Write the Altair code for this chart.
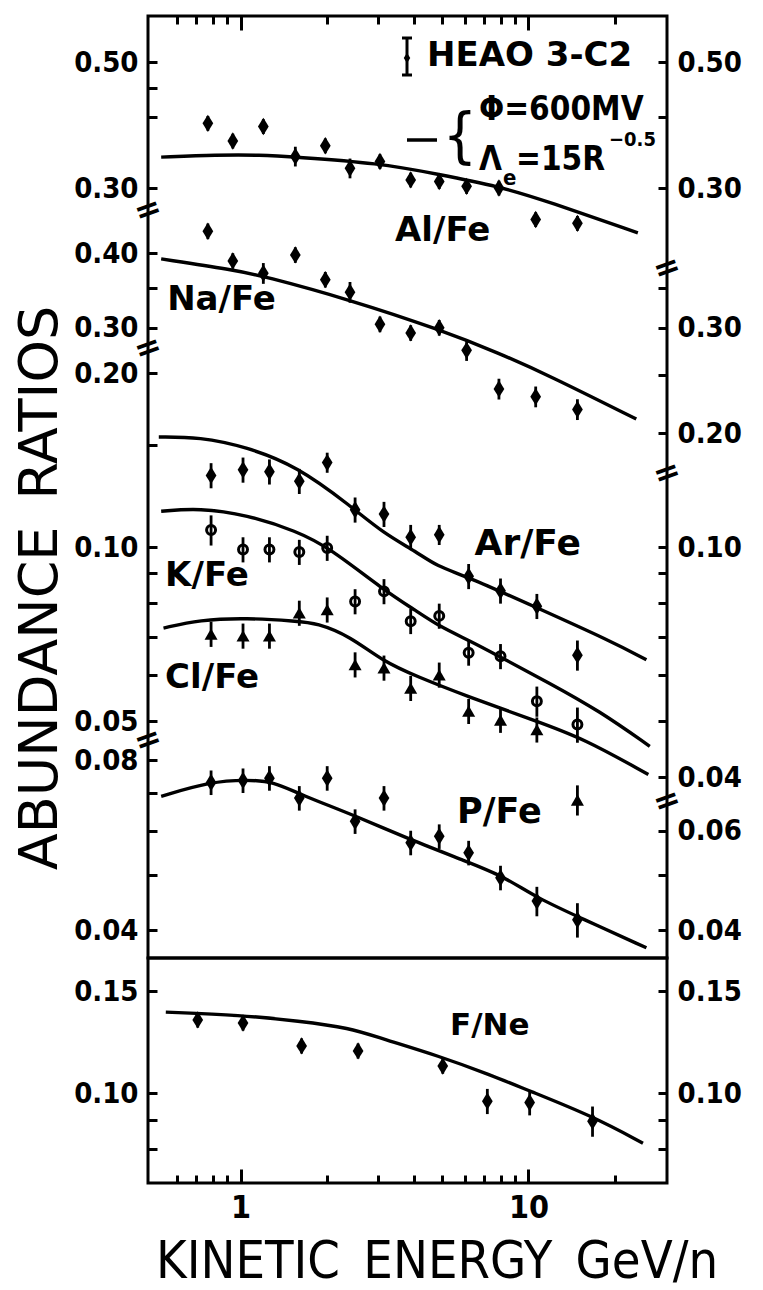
import json
import math
import altair as alt
import pandas as pd

# ---------------- data ----------------
E_A = [0.77, 0.94, 1.2, 1.55, 1.97, 2.4, 3.05, 3.9, 4.9, 6.1, 7.9, 10.6, 14.8]
E_B = [0.79, 1.02, 1.26, 1.6, 2.0, 2.5, 3.15, 3.9, 4.9, 6.2, 8.0, 10.7, 14.8]

AL_FE = [0.390, 0.363, 0.385, 0.341, 0.356, 0.325, 0.334, 0.310, 0.308, 0.302, 0.300, 0.264, 0.260]
AL_ERR = [3, 3, 3, 4, 3, 4, 3, 3, 3, 3, 3, 3, 3]
NA_FE = [0.435, 0.388, 0.370, 0.397, 0.361, 0.344, 0.304, 0.294, 0.300, 0.275, 0.237, 0.230, 0.219]
NA_ERR = [3, 3, 4, 3, 3, 4, 3, 3, 3, 4, 4, 4, 4]
AR_FE = [0.133, 0.136, 0.135, 0.130, 0.140, 0.116, 0.114, 0.104, 0.105, 0.089, 0.084, 0.079, 0.065]
AR_ERR = [5, 5, 5, 5, 4, 5, 5, 5, 4, 5, 5, 5, 6]
K_FE = [0.107, 0.099, 0.099, 0.098, 0.0996, 0.0805, 0.0838, 0.0744, 0.0760, 0.0656, 0.0647, 0.0541, 0.0493]
K_ERR = [6, 5, 5, 5, 5, 5, 5, 5, 5, 5, 5, 6, 7]
CL_FE = [0.0707, 0.0702, 0.0702, 0.0769, 0.0779, 0.0626, 0.0618, 0.0570, 0.0601, 0.0520, 0.0502, 0.0483, 0.0365]
CL_ERR = [5, 5, 5, 5, 5, 5, 5, 5, 5, 5, 5, 5, 6]
P_FE = [0.0730, 0.0736, 0.0743, 0.0685, 0.0743, 0.0623, 0.0685, 0.0571, 0.0586, 0.0548, 0.0495, 0.0450, 0.0417]
P_ERR = [5, 5, 5, 5, 5, 5, 5, 5, 5, 5, 5, 6, 7]
E_F = [0.71, 1.02, 1.63, 2.56, 5.04, 7.2, 10.1, 16.7]
F_NE = [0.1337, 0.1321, 0.1206, 0.1182, 0.1113, 0.0968, 0.0963, 0.0894]
F_ERR = [3, 3, 3, 3, 3, 5, 5, 6]

# model curves (phi = 600 MV, Lambda_e = 15 R^-0.5)
CAL_E = [0.53, 0.83, 1.17, 1.55, 3.0, 4.9, 7.9, 11.7, 24.0]
CAL_V = [0.340, 0.343, 0.343, 0.340, 0.332, 0.317, 0.302, 0.284, 0.250]
CNA_E = [0.53, 0.94, 1.2, 2.4, 4.9, 7.9, 11.7, 23.7]
CNA_V = [0.391, 0.375, 0.366, 0.334, 0.298, 0.272, 0.250, 0.211]
CAR_E = [0.52, 0.72, 1.05, 1.57, 2.4, 3.13, 4.1, 4.8, 6.1, 10.4, 19.4, 25.7]
CAR_V = [0.155, 0.155, 0.149, 0.138, 0.118, 0.1057, 0.098, 0.0926, 0.089, 0.079, 0.0687, 0.0638]
CK_E = [0.53, 0.72, 1.05, 1.57, 2.04, 3.13, 4.1, 4.9, 6.3, 7.9, 11.8, 17.7, 26.4]
CK_V = [0.1153, 0.1168, 0.1137, 0.1065, 0.0996, 0.0844, 0.0774, 0.0729, 0.0687, 0.0647, 0.0582, 0.0520, 0.0452]
CCL_E = [0.54, 0.72, 1.05, 1.57, 1.84, 2.4, 3.13, 4.1, 6.1, 10.4, 15.5, 26.1]
CCL_V = [0.0724, 0.0748, 0.0754, 0.0744, 0.0739, 0.0701, 0.0634, 0.0597, 0.0552, 0.0502, 0.0467, 0.0404]
CP_E = [0.53, 0.79, 1.05, 1.3, 1.61, 2.53, 3.88, 6.1, 8.2, 10.7, 15.2, 25.7]
CP_V = [0.0690, 0.0733, 0.0738, 0.0733, 0.0695, 0.0636, 0.0578, 0.0529, 0.0498, 0.0456, 0.0420, 0.0372]
CF_E = [0.55, 1.0, 1.6, 2.4, 3.05, 4.9, 7.4, 9.9, 16.7, 25.0]
CF_V = [0.1379, 0.1363, 0.1331, 0.1295, 0.1244, 0.1158, 0.1074, 0.1012, 0.0912, 0.0819]

X_MINOR = [0.6, 0.7, 0.8, 0.9, 2, 3, 4, 5, 6, 7, 8, 9, 20]
X_MAJOR = [1, 10]

# ---------------- layout / style ----------------
W, H1, H2 = 519, 942, 225
INK = "#000000"
TICK_FONT = "DejaVu Sans Condensed"
LAB_FONT = "DejaVu Sans"
DIAMOND = "M0,-1L0.62,0L0,1L-0.62,0Z"


def log_domain(v1, p1, v2, p2, h):
    k = (p2 - p1) / (math.log10(v1) - math.log10(v2))
    top = math.log10(v1) + p1 / k
    bot = math.log10(v1) - (h - p1) / k
    return [10 ** bot, 10 ** top]


def lscale(dom):
    return alt.Scale(type="log", nice=False, domain=dom)


SC_AL = lscale(log_domain(0.5, 46, 0.3, 172, H1))
SC_NA = lscale(log_domain(0.4, 237, 0.2, 417, H1))
SC_AKC = lscale(log_domain(0.2, 357, 0.1, 531, H1))
SC_P = lscale(log_domain(0.08, 744, 0.04, 914, H1))
SC_F = lscale(log_domain(0.15, 33, 0.10, 135, H2))

X_SCALE = alt.Scale(type="log", domain=[0.477, 30.3], nice=False)


def xenc(axis=None):
    return alt.X("E:Q", scale=X_SCALE, axis=axis)


def lab_expr(labeled):
    return "indexof(%s, datum.value) >= 0 ? format(datum.value, '.2f') : ''" % json.dumps(labeled)


def yaxis(values, labeled, side):
    common = dict(values=values, tickSize=9, tickWidth=3, tickColor=INK, domain=False, grid=False,
                  title=None, labelExpr=lab_expr(labeled), labelBaseline="middle", labelPadding=-19,
                  labelFont=TICK_FONT, labelFontSize=29, labelFontWeight="bold", labelColor=INK,
                  labelOverlap=False, labelFlush=False)
    if side == "left":
        return alt.Axis(orient="right", offset=-W, labelAlign="right", **common)
    return alt.Axis(orient="left", offset=-W, labelAlign="left", **common)


def axis_layer(values, labeled, side, scale):
    df = pd.DataFrame({"E": [1.0] * len(values), "v": values})
    return alt.Chart(df).mark_point(opacity=0).encode(
        x=xenc(), y=alt.Y("v:Q", scale=scale, axis=yaxis(values, labeled, side)))


def xaxis_layer(values, size, orient, offset, scale):
    df = pd.DataFrame({"E": values, "v": [0.1] * len(values)})
    ax = alt.Axis(orient=orient, offset=offset, values=values, tickSize=size, tickWidth=3,
                  tickColor=INK, labels=False, domain=False, grid=False, title=None)
    return alt.Chart(df).mark_point(opacity=0).encode(x=xenc(ax), y=alt.Y("v:Q", scale=scale, axis=None))


def series(E, vals, errs, scale, mark, cE, cV):
    df = pd.DataFrame({"E": E, "v": vals,
                       "lo": [v * (1 - e / 100) for v, e in zip(vals, errs)],
                       "hi": [v * (1 + e / 100) for v, e in zip(vals, errs)]})
    dfc = pd.DataFrame({"E": cE, "v": cV})
    curve = alt.Chart(dfc).mark_line(color=INK, strokeWidth=3.4, interpolate="basis").encode(
        x=xenc(), y=alt.Y("v:Q", scale=scale, axis=None))
    err = alt.Chart(df).mark_rule(color=INK, strokeWidth=2.8).encode(
        x=xenc(), y=alt.Y("lo:Q", scale=scale, axis=None), y2="hi:Q")
    pts = alt.Chart(df).mark_point(color=INK, **mark).encode(
        x=xenc(), y=alt.Y("v:Q", scale=scale, axis=None))
    return [curve, err, pts]


def label(text, e, v, scale, size):
    df = pd.DataFrame({"E": [e], "v": [v], "t": [text]})
    return alt.Chart(df).mark_text(align="left", baseline="alphabetic", font=LAB_FONT, fontSize=size,
                                   fontWeight="bold", color=INK).encode(
        x=xenc(), y=alt.Y("v:Q", scale=scale, axis=None), text="t:N")


def ptext(text, x, y, size, weight="bold", align="left", baseline="alphabetic", angle=0, font=LAB_FONT):
    kw = dict(align=align, baseline=baseline, font=font, fontSize=size, fontWeight=weight, color=INK)
    if angle:
        kw["angle"] = angle
    return alt.Chart(pd.DataFrame({"t": [text]})).mark_text(**kw).encode(
        x=alt.value(x), y=alt.value(y), text="t:N")


def prule(x, y, x2=None, y2=None, w=3):
    enc = dict(x=alt.value(x), y=alt.value(y))
    if x2 is not None:
        enc["x2"] = alt.value(x2)
    if y2 is not None:
        enc["y2"] = alt.value(y2)
    return alt.Chart(pd.DataFrame({"a": [0]})).mark_rule(color=INK, strokeWidth=w).encode(**enc)


M_DIAM = dict(shape=DIAMOND, filled=True, size=300, opacity=1)
M_CIRC = dict(shape="circle", filled=False, size=80, strokeWidth=3, opacity=1)
M_TRI = dict(shape="triangle-up", filled=True, size=170, opacity=1)

top_layers = []
top_layers += series(E_A, AL_FE, AL_ERR, SC_AL, M_DIAM, CAL_E, CAL_V)
top_layers += series(E_A, NA_FE, NA_ERR, SC_NA, M_DIAM, CNA_E, CNA_V)
top_layers += series(E_B, AR_FE, AR_ERR, SC_AKC, M_DIAM, CAR_E, CAR_V)
top_layers += series(E_B, K_FE, K_ERR, SC_AKC, M_CIRC, CK_E, CK_V)
top_layers += series(E_B, CL_FE, CL_ERR, SC_AKC, M_TRI, CCL_E, CCL_V)
top_layers += series(E_B, P_FE, P_ERR, SC_P, M_DIAM, CP_E, CP_V)

top_layers += [
    label("Al/Fe", 3.44, 0.242, SC_AL, 34),
    label("Na/Fe", 0.556, 0.321, SC_NA, 34),
    label("Ar/Fe", 6.5, 0.0969, SC_AKC, 36),
    label("K/Fe", 0.547, 0.0856, SC_AKC, 34),
    label("Cl/Fe", 0.547, 0.0570, SC_AKC, 34),
    label("P/Fe", 5.65, 0.0619, SC_P, 35),
]

# y axes (ticks point inward, labels outside)
top_layers += [
    axis_layer([0.5, 0.45, 0.4, 0.3], [0.5, 0.3], "left", SC_AL),
    axis_layer([0.4, 0.35, 0.3], [0.4, 0.3], "left", SC_NA),
    axis_layer([0.2, 0.15, 0.1, 0.09, 0.08, 0.07, 0.06, 0.05], [0.2, 0.1, 0.05], "left", SC_AKC),
    axis_layer([0.08, 0.07, 0.06, 0.05, 0.04], [0.08, 0.04], "left", SC_P),
    axis_layer([0.5, 0.4, 0.3], [0.5, 0.3], "right", SC_AL),
    axis_layer([0.35, 0.3, 0.25, 0.2], [0.3, 0.2], "right", SC_NA),
    axis_layer([0.1, 0.09, 0.08, 0.07, 0.06, 0.05, 0.04], [0.1, 0.04], "right", SC_AKC),
    axis_layer([0.06, 0.05, 0.04], [0.06, 0.04], "right", SC_P),
    xaxis_layer(X_MINOR, 8, "bottom", -H1, SC_AL),
    xaxis_layer(X_MAJOR, 14, "bottom", -H1, SC_AL),
]

# axis breaks
for bx, by in [(0, 194), (0, 332), (0, 724), (W, 252), (W, 457), (W, 785)]:
    top_layers.append(ptext("=", bx, by, 32, align="center", baseline="middle", angle=340))

# legend
LEG_FONT = "DejaVu Sans Condensed"
top_layers += [
    prule(259, 22, y2=59, w=3),
    prule(254, 22, x2=264, w=3),
    prule(254, 59, x2=264, w=3),
    alt.Chart(pd.DataFrame({"a": [0]})).mark_point(shape=DIAMOND, filled=True, size=110, color=INK,
                                                   opacity=1).encode(x=alt.value(259), y=alt.value(42)),
    ptext("HEAO 3-C2", 279, 50, 34),
    prule(259, 124, x2=289, w=3.5),
    ptext("{", 312, 122, 60, weight="normal", align="center", baseline="middle", font=LEG_FONT),
    ptext("\u03a6=600MV", 331, 104, 33, font=LEG_FONT),
    ptext("\u039b", 331, 154, 33, font=LEG_FONT),
    ptext("e", 355, 169, 22, font=LEG_FONT),
    ptext("=15R", 368, 154, 33, font=LEG_FONT),
    ptext("\u22120.5", 461, 130, 20, font=LEG_FONT),
]

# y title
top_layers.append(ptext("ABUNDANCE\u2002RATIOS", -107, 572, 54, weight="normal", align="center",
                        baseline="middle", angle=270))

top = alt.layer(*top_layers).resolve_scale(y="independent").resolve_axis(x="independent").properties(
    width=W, height=H1)

# ---------------- bottom panel (F/Ne) ----------------
bot_layers = series(E_F, F_NE, F_ERR, SC_F, M_DIAM, CF_E, CF_V)
bot_layers += [
    label("F/Ne", 5.34, 0.1259, SC_F, 31),
    axis_layer([0.15, 0.1, 0.09, 0.08], [0.15, 0.1], "left", SC_F),
    axis_layer([0.15, 0.1, 0.09, 0.08], [0.15, 0.1], "right", SC_F),
    xaxis_layer(X_MINOR, 8, "top", -H2, SC_F),
    xaxis_layer(X_MAJOR, 14, "top", -H2, SC_F),
    alt.Chart(pd.DataFrame({"E": X_MAJOR, "v": [0.1, 0.1]})).mark_point(opacity=0).encode(
        x=xenc(alt.Axis(orient="bottom", values=X_MAJOR, ticks=False, domain=False, grid=False,
                        title=None, format="d", labelFont=TICK_FONT, labelFontSize=32,
                        labelFontWeight="bold", labelColor=INK, labelPadding=9, labelFlush=False,
                        labelOverlap=False)),
        y=alt.Y("v:Q", scale=SC_F, axis=None)),
    ptext("KINETIC\u2002ENERGY\u2002GeV/n", 289, 320, 52, weight="normal", align="center",
          font="DejaVu Sans Condensed"),
]
bottom = alt.layer(*bot_layers).resolve_scale(y="independent").resolve_axis(x="independent").properties(
    width=W, height=H2)

chart = alt.vconcat(top, bottom, spacing=0, bounds="flush").properties(
    padding={"left": 4, "top": 5, "right": 5, "bottom": 5}, background="white"
).configure_view(stroke=INK, strokeWidth=3).configure_axis(grid=False, domain=False)

chart.save("out.html", embed_options={"renderer": "svg", "actions": False})
